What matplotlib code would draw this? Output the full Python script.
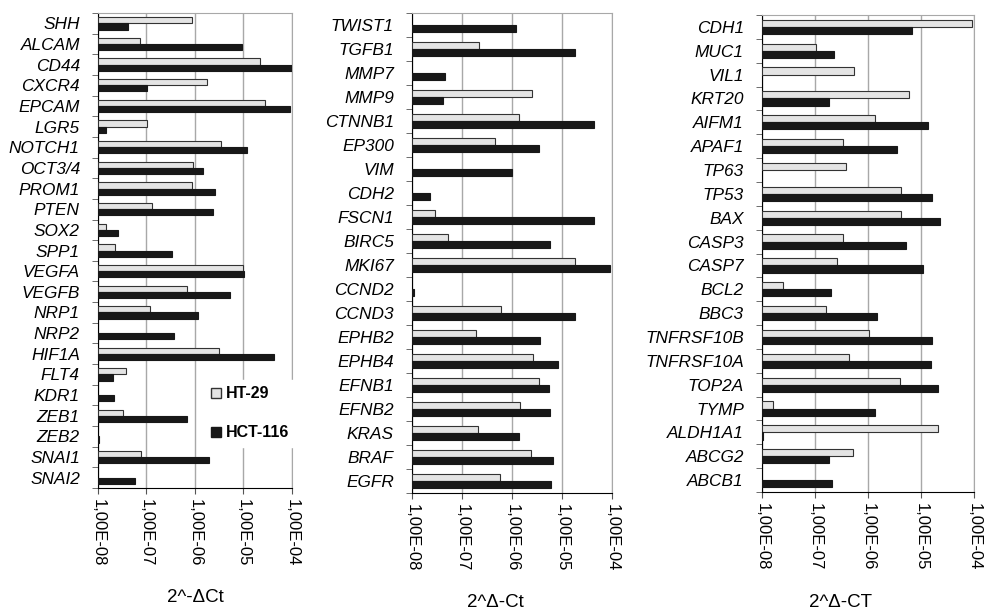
import numpy as np
import matplotlib
matplotlib.use('Agg')
import matplotlib.pyplot as plt
from matplotlib.patches import Patch

plt.rcParams['font.family'] = ['Liberation Sans', 'DejaVu Sans']

nan = np.nan

# panel 1
genes1 = ['SHH', 'ALCAM', 'CD44', 'CXCR4', 'EPCAM', 'LGR5', 'NOTCH1', 'OCT3/4',
          'PROM1', 'PTEN', 'SOX2', 'SPP1', 'VEGFA', 'VEGFB', 'NRP1', 'NRP2',
          'HIF1A', 'FLT4', 'KDR1', 'ZEB1', 'ZEB2', 'SNAI1', 'SNAI2']
ht29_1 = [-6.06, -7.14, -4.66, -5.75, -4.55, -6.98, -5.46, -6.04,
          -6.06, -6.89, -7.84, -7.64, -5.01, -6.16, -6.93, nan,
          -5.50, -7.43, nan, -7.48, nan, -7.12, nan]
hct116_1 = [-7.38, -5.03, -4.00, -6.98, -4.04, -7.84, -4.93, -5.84,
            -5.59, -5.62, -7.58, -6.47, -4.99, -5.28, -5.94, -6.43,
            -4.37, -7.69, -7.68, -6.16, -7.98, -5.72, -7.23]

# panel 2
genes2 = ['TWIST1', 'TGFB1', 'MMP7', 'MMP9', 'CTNNB1', 'EP300', 'VIM', 'CDH2',
          'FSCN1', 'BIRC5', 'MKI67', 'CCND2', 'CCND3', 'EPHB2', 'EPHB4',
          'EFNB1', 'EFNB2', 'KRAS', 'BRAF', 'EGFR']
ht29_2 = [nan, -6.66, nan, -5.60, -5.87, -6.34, nan, nan,
          -7.54, -7.29, -4.74, nan, -6.22, -6.73, -5.59,
          -5.46, -5.85, -6.68, -5.63, -6.24]
hct116_2 = [-5.92, -4.75, -7.35, -7.39, -4.37, -5.47, -6.00, -7.65,
            -4.37, -5.24, -4.04, -7.97, -4.74, -5.44, -5.08,
            -5.26, -5.24, -5.86, -5.18, -5.23]

# panel 3
genes3 = ['CDH1', 'MUC1', 'VIL1', 'KRT20', 'AIFM1', 'APAF1', 'TP63', 'TP53',
          'BAX', 'CASP3', 'CASP7', 'BCL2', 'BBC3', 'TNFRSF10B', 'TNFRSF10A',
          'TOP2A', 'TYMP', 'ALDH1A1', 'ABCG2', 'ABCB1']
ht29_3 = [-4.04, -6.99, -6.27, -5.22, -5.87, -6.47, -6.42, -5.37,
          -5.38, -6.48, -6.58, -7.60, -6.79, -5.99, -6.36,
          -5.39, -7.80, -4.68, -6.28, nan]
hct116_3 = [-5.16, -6.64, nan, -6.73, -4.87, -5.46, nan, -4.80,
            -4.65, -5.29, -4.96, -6.69, -5.83, -4.80, -4.82,
            -4.68, -5.86, -7.99, -6.73, -6.67]

xticklabels = ['1,00E-08', '1,00E-07', '1,00E-06', '1,00E-05', '1,00E-04']
xlabels = ['2^-ΔCt', '2^Δ-Ct', '2^Δ-CT']


def draw_panel(ax, genes, ht, hct, xlabel, label_x, label_y):
    n = len(genes)
    y = np.arange(n)
    ht = 10.0 ** np.array(ht)
    hct = 10.0 ** np.array(hct)
    base = 1e-8
    ax.set_xscale('log')
    ax.barh(y - 0.15, ht - base, left=base, height=0.3,
            color='#e4e4e4', edgecolor='#333333', linewidth=0.8, zorder=3)
    ax.barh(y + 0.15, hct - base, left=base, height=0.3,
            color='#181818', edgecolor='#181818', linewidth=0.8, zorder=3)
    ax.set_xlim(1e-8, 1e-4)
    ax.set_ylim(n - 0.5, -0.5)
    ax.set_xticks([1e-8, 1e-7, 1e-6, 1e-5, 1e-4])
    ax.set_xticklabels(xticklabels, rotation=270, fontsize=12)
    ax.xaxis.set_minor_locator(matplotlib.ticker.NullLocator())
    ax.set_yticks(y)
    ax.set_yticklabels(genes, fontstyle='italic', fontsize=12.4)
    ax.set_yticks(np.arange(n + 1) - 0.5, minor=True)
    ax.tick_params(axis='y', which='major', length=0, pad=13)
    ax.tick_params(axis='y', which='minor', length=4, color='#555555')
    ax.tick_params(axis='x', length=4, color='#555555', pad=4)
    ax.grid(axis='x', color='#a8a8a8', linewidth=1, zorder=0)
    for s in ['top', 'right']:
        ax.spines[s].set_color('#a8a8a8')
    for s in ['left', 'bottom']:
        ax.spines[s].set_color('black')
    ax.set_xlabel(xlabel, fontsize=13.5)
    ax.xaxis.set_label_coords(label_x, label_y)


fig = plt.figure(figsize=(9.84, 6.13), dpi=100)
ax1 = fig.add_axes([0.0996, 0.2039, 0.1971, 0.7749])
ax2 = fig.add_axes([0.4187, 0.1958, 0.2033, 0.7830])
ax3 = fig.add_axes([0.7744, 0.1974, 0.2154, 0.7781])

draw_panel(ax1, genes1, ht29_1, hct116_1, xlabels[0], 0.5, -0.213)
draw_panel(ax2, genes2, ht29_2, hct116_2, xlabels[1], 0.415, -0.21)
draw_panel(ax3, genes3, ht29_3, hct116_3, xlabels[2], 0.37, -0.214)

handles = [Patch(facecolor='#e4e4e4', edgecolor='#333333'),
           Patch(facecolor='#181818', edgecolor='#181818')]
leg = ax1.legend(handles, ['HT-29', 'HCT-116'], loc='lower right',
                 bbox_to_anchor=(1.06, 0.07), frameon=True, framealpha=1,
                 edgecolor='white', fancybox=False, handlelength=0.6,
                 handleheight=0.6, handletextpad=0.3, labelspacing=1.5,
                 prop={'weight': 'bold', 'size': 11.5})
leg.set_zorder(5)

fig.savefig('out.png', dpi=100)
